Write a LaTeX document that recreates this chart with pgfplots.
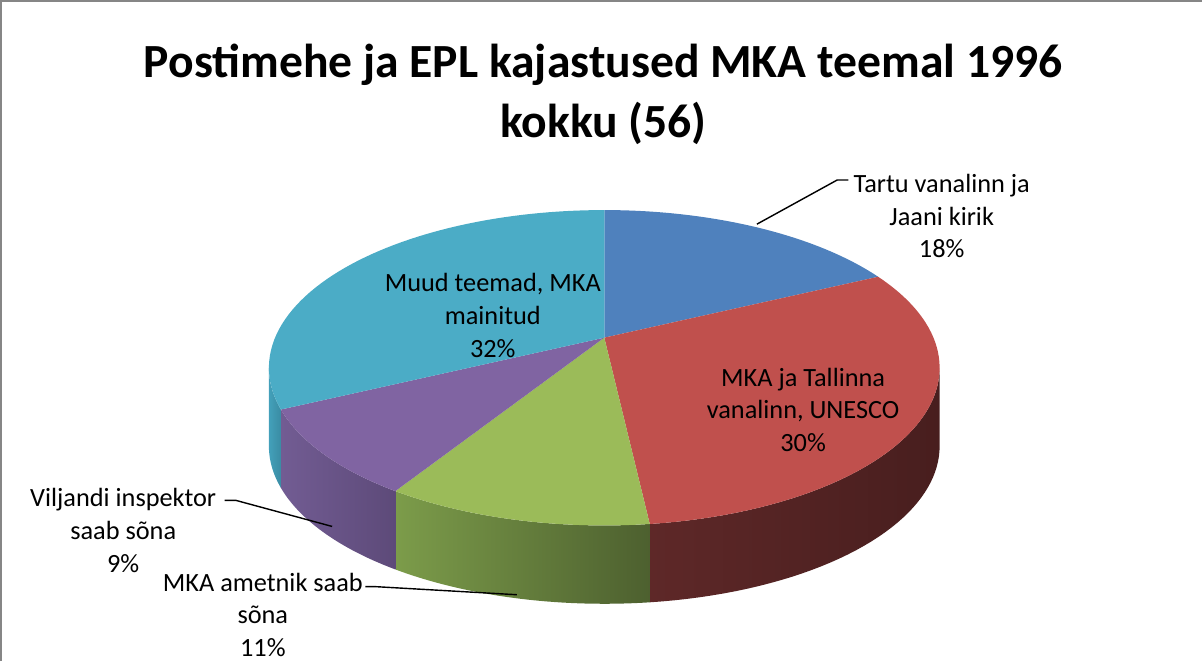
\documentclass[border=0pt]{standalone}
\usepackage{pgfplots}
\pgfplotsset{compat=1.18}
\usepackage{fontspec}
\setmainfont{Carlito}
\definecolor{cblue}{HTML}{4F81BD}
\definecolor{cred}{HTML}{C0504D}
\definecolor{cgreen}{HTML}{9BBB59}
\definecolor{cpurple}{HTML}{8064A2}
\definecolor{ccyan}{HTML}{4BACC6}
\definecolor{sredL}{HTML}{5E2828}
\definecolor{sredR}{HTML}{481E1E}
\definecolor{sgreenL}{HTML}{7C9C4A}
\definecolor{sgreenR}{HTML}{4D602F}
\definecolor{spurpleL}{HTML}{725C93}
\definecolor{spurpleR}{HTML}{5D4A79}
\definecolor{scyanL}{HTML}{43A0BA}
\definecolor{scyanR}{HTML}{3A8CA3}
\definecolor{framegray}{HTML}{868686}
% data: number of articles per topic (total 56)
\def\nA{10}% Tartu vanalinn ja Jaani kirik
\def\nB{17}% MKA ja Tallinna vanalinn, UNESCO
\def\nC{6}%  MKA ametnik saab sona
\def\nD{5}%  Viljandi inspektor saab sona
\def\nE{18}% Muud teemad, MKA mainitud
\pgfmathsetmacro\tot{\nA+\nB+\nC+\nD+\nE}
\pgfmathsetmacro\aA{360*\nA/\tot}
\pgfmathsetmacro\aB{360*(\nA+\nB)/\tot}
\pgfmathsetmacro\aC{360*(\nA+\nB+\nC)/\tot}
\pgfmathsetmacro\aD{360*(\nA+\nB+\nC+\nD)/\tot}
\def\kk{0.191}
\pgfmathsetmacro\aR{acos(-\kk)}
\pgfmathsetmacro\aL{360-\aR}
\def\depth{78}
\newcommand{\topslice}[3]{%
  \addplot[fill=#3, draw=none, variable=\t, samples at={-1,0,1,...,60,61}]
  ({pxf(rr(\t), #1+(#2-#1)*cl(\t)/60)}, {pyf(rr(\t), #1+(#2-#1)*cl(\t)/60)});
}
\newcommand{\sideslice}[4]{%
  \addplot[draw=none, left color=#3, right color=#4, variable=\t,
    samples at={0,1,...,40,100,101,...,140}]
  ({pxf(1, sa(\t,#1,#2))}, {pyf(1, sa(\t,#1,#2)) + ifthenelse(\t<70,0,\depth)});
}
\begin{document}
\begin{tikzpicture}[declare function={
    den(\r,\a)=1+\kk*\r*cos(\a);
    pxf(\r,\a)=608+327.8*\r*sin(\a)/den(\r,\a);
    pyf(\r,\a)=667-(322+212.8*\r*cos(\a))/den(\r,\a);
    rr(\t)=ifthenelse(or(\t<-0.5,\t>60.5),0,1);
    cl(\t)=min(max(\t,0),60);
    sa(\t,\p,\q)=ifthenelse(\t<70,\p+(\q-\p)*\t/40,\q-(\q-\p)*(\t-100)/40);
  }]
\begin{axis}[
  width=601.5pt, height=333.5pt, scale only axis,
  xmin=0, xmax=1203, ymin=0, ymax=667, y dir=reverse,
  hide axis, clip=false,
]
% frame
\addplot[framegray, line width=1.2pt] coordinates {(7.5,667) (7.5,10) (1203,10)};
% side walls
\sideslice{\aR}{\aB}{sredL}{sredR}
\sideslice{\aB}{\aC}{sgreenL}{sgreenR}
\sideslice{\aC}{\aD}{spurpleL}{spurpleR}
\sideslice{\aD}{\aL}{scyanL}{scyanR}
% top faces
\topslice{0}{\aA}{cblue}
\topslice{\aA}{\aB}{cred}
\topslice{\aB}{\aC}{cgreen}
\topslice{\aC}{\aD}{cpurple}
\topslice{\aD}{360}{ccyan}
% leader lines
\addplot[black, line width=0.7pt] coordinates {(760,232) (840,188) (851,188)};
\addplot[black, line width=0.7pt] coordinates {(230,507) (241,507) (337,533)};
\addplot[black, line width=0.7pt] coordinates {(370,593) (381,593) (521,601)};
% title
\node[font=\fontsize{23.7}{30}\selectfont\bfseries, align=center] at (axis cs:607,103)
  {Postimehe ja EPL kajastused MKA teemal 1996\\kokku (56)};
% labels
\node[font=\fontsize{13.1}{16.3}\selectfont, align=center] at (axis cs:944,224)
  {Tartu vanalinn ja\\Jaani kirik\\18\%};
\node[font=\fontsize{13.1}{16.3}\selectfont, align=center] at (axis cs:806,417)
  {MKA ja Tallinna\\vanalinn, UNESCO\\30\%};
\node[font=\fontsize{13.1}{16.3}\selectfont, align=center] at (axis cs:497,323)
  {Muud teemad, MKA\\mainitud\\32\%};
\node[font=\fontsize{13.1}{16.3}\selectfont, align=center] at (axis cs:129,537)
  {Viljandi inspektor\\saab sõna\\9\%};
\node[font=\fontsize{13.1}{16.3}\selectfont, align=center] at (axis cs:268,621)
  {MKA ametnik saab\\sõna\\11\%};
\end{axis}
\end{tikzpicture}
\end{document}
